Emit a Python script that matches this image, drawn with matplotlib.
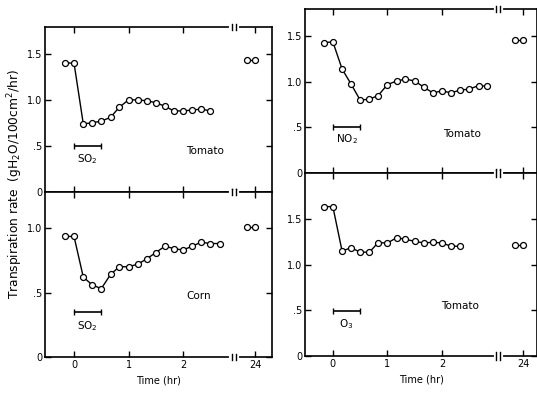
import numpy as np
import matplotlib
matplotlib.use('Agg')
from matplotlib import pyplot as plt

# time points (hr), 10 minute steps, plus the 24 hr readings
t_so2_tom = [-0.17, 0, 0.17, 0.33, 0.5, 0.67, 0.83, 1.0, 1.17, 1.33, 1.5, 1.67, 1.83, 2.0, 2.17, 2.33, 2.5]
v_so2_tom = [1.40, 1.40, 0.74, 0.75, 0.77, 0.81, 0.92, 1.00, 1.00, 0.99, 0.97, 0.93, 0.88, 0.88, 0.89, 0.90, 0.88]
v24_so2_tom = [1.43, 1.43]

t_no2_tom = [-0.17, 0, 0.17, 0.33, 0.5, 0.67, 0.83, 1.0, 1.17, 1.33, 1.5, 1.67, 1.83, 2.0, 2.17, 2.33, 2.5, 2.67, 2.83]
v_no2_tom = [1.43, 1.44, 1.14, 0.98, 0.80, 0.81, 0.85, 0.97, 1.01, 1.03, 1.01, 0.94, 0.88, 0.90, 0.88, 0.91, 0.92, 0.96, 0.95]
v24_no2_tom = [1.46, 1.46]

t_so2_corn = [-0.17, 0, 0.17, 0.33, 0.5, 0.67, 0.83, 1.0, 1.17, 1.33, 1.5, 1.67, 1.83, 2.0, 2.17, 2.33, 2.5, 2.67]
v_so2_corn = [0.935, 0.935, 0.62, 0.56, 0.53, 0.64, 0.70, 0.70, 0.72, 0.76, 0.81, 0.86, 0.84, 0.83, 0.86, 0.89, 0.88, 0.88]
v24_so2_corn = [1.01, 1.01]

t_o3_tom = [-0.17, 0, 0.17, 0.33, 0.5, 0.67, 0.83, 1.0, 1.17, 1.33, 1.5, 1.67, 1.83, 2.0, 2.17, 2.33]
v_o3_tom = [1.64, 1.64, 1.15, 1.19, 1.14, 1.14, 1.245, 1.24, 1.30, 1.28, 1.26, 1.24, 1.25, 1.24, 1.205, 1.205]
v24_o3_tom = [1.22, 1.22]

t24 = [23.75, 24.0]
exposure = [0, 0.5]

yticks = [0, 0.5, 1.0, 1.5]
ytick_labels = ['0', '.5', '1.0', '1.5']
xtick_labels = ['0', '1', '2', '24']

plt.rcParams['font.family'] = 'DejaVu Sans'

fig = plt.figure(figsize=(5.37, 3.93), dpi=100)

# [left, bottom, width, height], xlim, ylim, break pos, 24hr pos
panels = [
    dict(rect=[0.084, 0.5115, 0.4225, 0.4195], xlim=(-0.53, 3.63), ylim=(0, 1.79), brk=2.93, p24=3.32,
         t=t_so2_tom, v=v_so2_tom, v24=v24_so2_tom, gas='SO$_2$', bar_y=0.5, gas_y=0.36,
         plant='Tomato', plant_xy=(2.41, 0.45), bottom=False),
    dict(rect=[0.084, 0.0916, 0.4225, 0.42], xlim=(-0.53, 3.63), ylim=(0, 1.28), brk=2.93, p24=3.32,
         t=t_so2_corn, v=v_so2_corn, v24=v24_so2_corn, gas='SO$_2$', bar_y=0.35, gas_y=0.24,
         plant='Corn', plant_xy=(2.28, 0.47), bottom=True),
    dict(rect=[0.568, 0.56, 0.432, 0.417], xlim=(-0.51, 3.74), ylim=(0, 1.80), brk=3.03, p24=3.49,
         t=t_no2_tom, v=v_no2_tom, v24=v24_no2_tom, gas='NO$_2$', bar_y=0.5, gas_y=0.37,
         plant='Tomato', plant_xy=(2.37, 0.43), bottom=False),
    dict(rect=[0.568, 0.0941, 0.432, 0.4659], xlim=(-0.51, 3.74), ylim=(0, 2.01), brk=3.03, p24=3.49,
         t=t_o3_tom, v=v_o3_tom, v24=v24_o3_tom, gas='O$_3$', bar_y=0.49, gas_y=0.355,
         plant='Tomato', plant_xy=(2.33, 0.55), bottom=True),
]

for p in panels:
    ax = fig.add_axes(p['rect'])

    ax.plot(p['t'], p['v'], '-o', color='black', lw=1.0, ms=4.3,
            mfc='white', mec='black', mew=0.9)
    x24 = [p['p24'] + (h - 24) * 0.6 for h in t24]
    ax.plot(x24, p['v24'], '-o', color='black', lw=1.0, ms=4.3,
            mfc='white', mec='black', mew=0.9)

    # exposure period bar
    ax.errorbar([np.mean(exposure)], [p['bar_y']], xerr=[[0.25], [0.25]],
                fmt='none', ecolor='black', elinewidth=1.2, capsize=2.5, capthick=1.0)
    ax.text(0.25, p['gas_y'], p['gas'], ha='center', va='center', fontsize=7.5)
    ax.text(p['plant_xy'][0], p['plant_xy'][1], p['plant'], ha='center', va='center', fontsize=7.5)

    # axis break marks on top and bottom spines
    for yy in (0, 1):
        ax.plot([p['brk'] - 0.05, p['brk'] + 0.05], [yy, yy], color='white', lw=3,
                transform=ax.get_xaxis_transform(), clip_on=False, zorder=5)
        for dx in (-0.04, 0.04):
            ax.plot([p['brk'] + dx, p['brk'] + dx], [yy - 0.02, yy + 0.02], color='black', lw=1,
                    transform=ax.get_xaxis_transform(), clip_on=False, zorder=6)

    ax.set_xlim(*p['xlim'])
    ax.set_ylim(*p['ylim'])
    keep = [i for i, y in enumerate(yticks) if y <= p['ylim'][1]]
    ax.set_yticks([yticks[i] for i in keep], labels=[ytick_labels[i] for i in keep])
    if p['bottom']:
        ax.set_xticks([0, 1, 2, p['p24']], labels=xtick_labels)
        ax.set_xlabel('Time (hr)', fontsize=7, labelpad=4)
    else:
        ax.set_xticks([0, 1, 2, p['p24']], labels=['', '', '', ''])
    ax.tick_params(direction='in', top=True, right=True, length=4, width=1,
                   labelsize=7, pad=2)
    for s in ax.spines.values():
        s.set_linewidth(1.2)

fig.text(0.028, 0.532, 'Transpiration rate  (gH$_2$O/100cm$^2$/hr)', rotation=90,
         ha='center', va='center', fontsize=8.8)

plt.savefig('out.png', dpi=100)
